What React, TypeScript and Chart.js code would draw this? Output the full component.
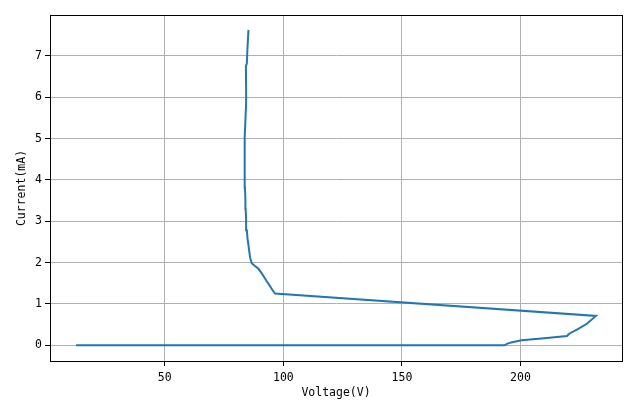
import React, { useEffect, useRef } from "react";
import { Chart, registerables } from "chart.js";

Chart.register(...registerables);

const voltage = [
  12.6, 193.2, 194.5, 196.1, 200.4, 210.0, 219.6, 220.5, 223.8, 228.0, 231.8,
  96.5, 95.6, 94.4, 93.0, 91.8, 90.9, 89.5, 87.8, 86.7, 86.0, 85.6, 85.3, 84.9,
  84.6, 84.3, 84.1, 84.0, 83.8, 83.5, 83.8, 83.8, 83.6, 83.8, 84.0, 84.3, 84.3,
  84.2, 84.6, 84.9, 85.3,
];
const current = [
  0, 0, 0.04, 0.07, 0.12, 0.17, 0.225, 0.28, 0.38, 0.52, 0.71,
  1.25, 1.32, 1.43, 1.55, 1.66, 1.74, 1.85, 1.93, 1.98, 2.12, 2.28, 2.42, 2.58,
  2.78, 3.03, 3.3, 3.51, 3.82, 4.07, 4.25, 4.48, 4.88, 5.04, 5.45, 5.85, 6.25,
  6.74, 6.82, 7.22, 7.63,
];
const xTicks = [50, 100, 150, 200];
const yTicks = [0, 1, 2, 3, 4, 5, 6, 7];
const xLabel = "Voltage(V)";
const yLabel = "Current(mA)";

const FONT = "'DejaVu Sans Mono', 'Liberation Mono', monospace";
const FS = 11.5;

const framePlugin = {
  id: "frame",
  afterDraw(chart: any) {
    const { ctx, chartArea } = chart;
    ctx.save();
    ctx.strokeStyle = "#000";
    ctx.lineWidth = 1;
    ctx.strokeRect(
      Math.round(chartArea.left) + 0.5,
      Math.round(chartArea.top) + 0.5,
      Math.round(chartArea.right - chartArea.left),
      Math.round(chartArea.bottom - chartArea.top)
    );
    ctx.restore();
  },
};

export default function App() {
  const ref = useRef<HTMLCanvasElement | null>(null);

  useEffect(() => {
    if (!ref.current) return;
    const data = voltage.map((v, i) => ({ x: v, y: current[i] }));
    const chart = new Chart(ref.current, {
      type: "scatter",
      data: {
        datasets: [
          {
            data,
            showLine: true,
            borderColor: "#1f77b4",
            backgroundColor: "#1f77b4",
            borderWidth: 2,
            pointRadius: 0,
            tension: 0,
          },
        ],
      },
      options: {
        responsive: false,
        animation: false,
        devicePixelRatio: 1,
        layout: { padding: { top: 15, right: 18, left: 0, bottom: 0 } },
        plugins: {
          legend: { display: false },
          tooltip: { enabled: false },
        },
        scales: {
          x: {
            type: "linear",
            min: 1.6,
            max: 242.8,
            afterBuildTicks: (scale: any) => {
              scale.ticks = xTicks.map((v) => ({ value: v }));
            },
            afterFit: (scale: any) => {
              scale.height = 48;
            },
            grid: {
              color: "#b0b0b0",
              lineWidth: 1,
              tickColor: "#000",
              tickLength: 5,
              drawTicks: true,
            },
            border: { display: true, color: "#000", width: 1 },
            ticks: {
              color: "#000",
              font: { family: FONT, size: FS },
              padding: 5,
              maxRotation: 0,
              autoSkip: false,
              callback: (v: any) => String(v),
            },
            title: {
              display: true,
              text: xLabel,
              color: "#000",
              font: { family: FONT, size: FS },
              padding: { top: 9, bottom: 9 },
            },
          },
          y: {
            type: "linear",
            min: -0.38,
            max: 7.99,
            afterBuildTicks: (scale: any) => {
              scale.ticks = yTicks.map((v) => ({ value: v }));
            },
            afterFit: (scale: any) => {
              scale.width = 50;
            },
            grid: {
              color: "#b0b0b0",
              lineWidth: 1,
              tickColor: "#000",
              tickLength: 5,
              drawTicks: true,
            },
            border: { display: true, color: "#000", width: 1 },
            ticks: {
              color: "#000",
              font: { family: FONT, size: FS },
              padding: 3,
              autoSkip: false,
              callback: (v: any) => String(v),
            },
            title: {
              display: true,
              text: yLabel,
              color: "#000",
              font: { family: FONT, size: FS },
              padding: { top: 15, bottom: 15 },
            },
          },
        },
      },
      plugins: [framePlugin],
    });
    return () => chart.destroy();
  }, []);

  return (
    <div style={{ position: "fixed", left: 0, top: 0, width: 640, height: 409, background: "#fff" }}>
      <canvas ref={ref} width={640} height={409} style={{ width: 640, height: 409, display: "block" }} />
    </div>
  );
}
